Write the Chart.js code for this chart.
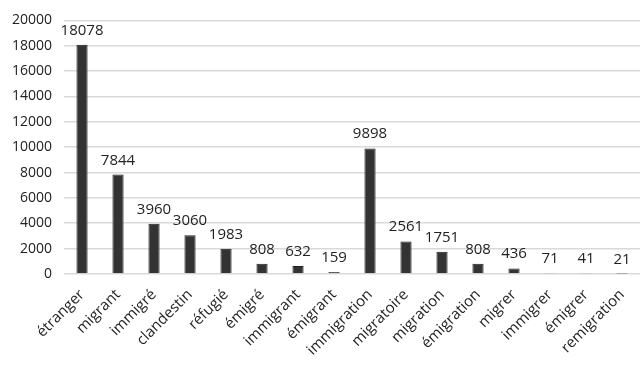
<!DOCTYPE html>
<html>
<head>
<meta charset="utf-8">
<script src="https://cdn.jsdelivr.net/npm/chart.js@4.4.0/dist/chart.umd.min.js"></script>
<style>
  html, body { margin: 0; padding: 0; background: #fff; }
  #wrap { width: 642px; height: 365px; }
</style>
</head>
<body>
<div id="wrap"><canvas id="chart-area" width="642" height="365"></canvas></div>
<script>
var labels = ["étranger", "migrant", "immigré", "clandestin", "réfugié", "émigré", "immigrant", "émigrant",
    "immigration", "migratoire", "migration", "émigration", "migrer", "immigrer", "émigrer", "remigration"];
var counts = [18078, 7844, 3960, 3060, 1983, 808, 632, 159, 9898, 2561, 1751, 808, 436, 71, 41, 21];
var yTicks = [0, 2000, 4000, 6000, 8000, 10000, 12000, 14000, 16000, 18000, 20000];

var fontName = "'Open Sans', 'Liberation Sans', sans-serif";

// draws the value above each bar
var valueLabels = {
    id: 'valueLabels',
    afterDatasetsDraw: function(chart) {
        var ctx = chart.ctx;
        var meta = chart.getDatasetMeta(0);
        ctx.save();
        ctx.fillStyle = '#222';
        ctx.font = '15px ' + fontName;
        ctx.textAlign = 'center';
        ctx.textBaseline = 'alphabetic';
        meta.data.forEach(function(bar, i) {
            ctx.fillText(counts[i], bar.x, bar.y - 10);
        });
        ctx.restore();
    }
};

var config = {
    type: 'bar',
    data: {
        labels: labels,
        datasets: [{
            data: counts,
            backgroundColor: '#333333',
            borderColor: '#1f1f1f',
            borderWidth: 1,
            barPercentage: 0.62,
            categoryPercentage: 0.5
        }]
    },
    options: {
        responsive: false,
        animation: false,
        layout: { padding: { left: 0, right: 2, top: 10, bottom: 2 } },
        plugins: {
            legend: { display: false },
            tooltip: { enabled: false }
        },
        scales: {
            x: {
                grid: { display: false },
                border: { display: false },
                ticks: {
                    color: '#222',
                    font: { family: fontName, size: 15 },
                    maxRotation: 45,
                    minRotation: 45,
                    padding: 4
                }
            },
            y: {
                min: 0,
                max: 20000,
                afterBuildTicks: function(axis) {
                    axis.ticks = yTicks.map(function(v) { return { value: v }; });
                },
                grid: { color: '#d9d9d9', lineWidth: 1.5, drawTicks: false },
                border: { display: false },
                ticks: {
                    color: '#222',
                    font: { family: fontName, size: 14 },
                    padding: 12,
                    callback: function(v) { return String(v); }
                }
            }
        }
    },
    plugins: [valueLabels]
};

var ctx = document.getElementById("chart-area").getContext("2d");
window.myBar = new Chart(ctx, config);
</script>
</body>
</html>
